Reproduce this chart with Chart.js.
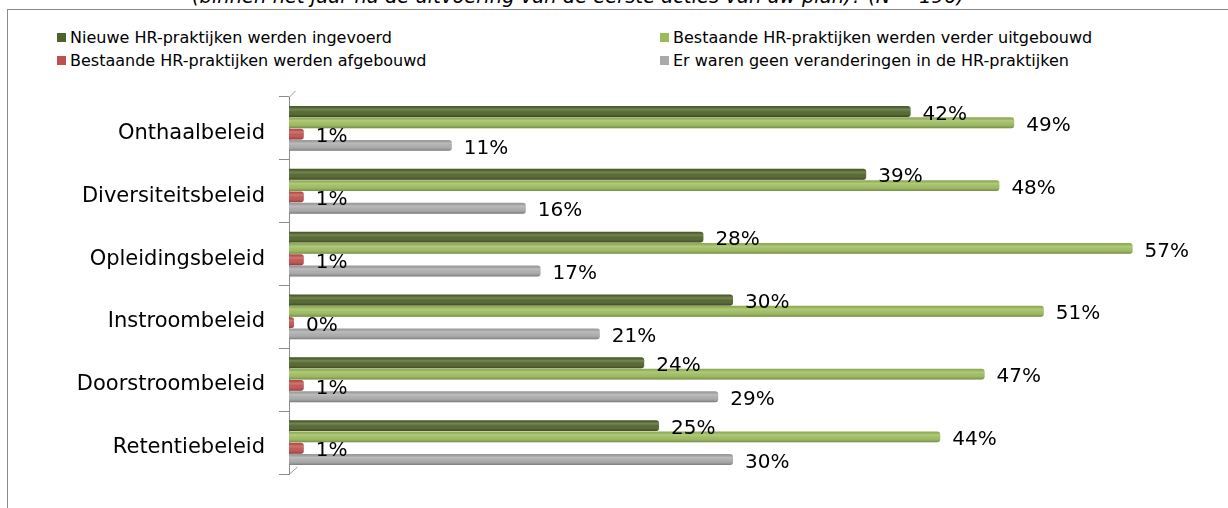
<!DOCTYPE html>
<html>
<head>
<meta charset="utf-8">
<script src="https://cdn.jsdelivr.net/npm/chart.js@4/dist/chart.umd.min.js"></script>
<style>
  body { margin: 0; background: #fff; }
  #wrap { position: relative; width: 1228px; height: 508px; overflow: hidden; font-family: "DejaVu Sans", sans-serif; }
  #title { position: absolute; left: 0; width: 1156px; top: -15px; text-align: center; font-size: 19.5px; font-style: italic; color: #000; white-space: nowrap; }
  #frame { position: absolute; left: 7px; top: 9px; width: 1260px; height: 540px; border: 1px solid #8a8a8a; }
  #legend { position: absolute; left: 57px; top: 27px; display: grid; grid-template-columns: 603px auto; row-gap: 3px; font-size: 16px; color: #000; }
  #legend .item { display: flex; align-items: center; height: 20px; white-space: nowrap; }
  #legend .box { width: 9px; height: 9px; margin-right: 4px; }
  canvas { position: absolute; left: 0; top: 0; }
</style>
</head>
<body>
<div id="wrap">
  <div id="title">(binnen het jaar na de uitvoering van de eerste acties van uw plan)? (N = 196)</div>
  <div id="frame"></div>
  <div id="legend"></div>
  <canvas id="chart" width="1228" height="508"></canvas>
</div>
<script>
// Beleidsdomeinen en percentages per type verandering
const categories = ['Onthaalbeleid', 'Diversiteitsbeleid', 'Opleidingsbeleid', 'Instroombeleid', 'Doorstroombeleid', 'Retentiebeleid'];
const nieuwe = [42, 39, 28, 30, 24, 25];
const uitgebouwd = [49, 48, 57, 51, 47, 44];
const afgebouwd = [1, 1, 1, 0, 1, 1];
const geenVerandering = [11, 16, 17, 21, 29, 30];

const seriesNames = [
  'Nieuwe HR-praktijken werden ingevoerd',
  'Bestaande HR-praktijken werden verder uitgebouwd',
  'Bestaande HR-praktijken werden afgebouwd',
  'Er waren geen veranderingen in de HR-praktijken'
];
const colors = ['#4F6228', '#9BBB59', '#C0504D', '#A9A9A9'];

const FONT = '"DejaVu Sans", sans-serif';

// Cilinder-effect over elke balk
const shading = {
  id: 'shading',
  afterDatasetsDraw(chart) {
    const ctx = chart.ctx;
    chart.data.datasets.forEach((ds, d) => {
      chart.getDatasetMeta(d).data.forEach(bar => {
        const p = bar.getProps(['x', 'y', 'base', 'height'], true);
        const top = p.y - p.height / 2;
        const w = p.x - p.base;
        if (w <= 0) return;
        const g = ctx.createLinearGradient(0, top, 0, top + p.height);
        g.addColorStop(0, 'rgba(0,0,0,0.08)');
        g.addColorStop(0.3, 'rgba(255,255,255,0.22)');
        g.addColorStop(0.55, 'rgba(255,255,255,0.05)');
        g.addColorStop(1, 'rgba(0,0,0,0.28)');
        ctx.save();
        ctx.fillStyle = g;
        ctx.beginPath();
        const r = Math.min(3, w);
        ctx.roundRect(p.base, top, w, p.height, [0, r, r, 0]);
        ctx.fill();
        ctx.restore();
      });
    });
  }
};

// Percentages naast de balken
const valueLabels = {
  id: 'valueLabels',
  afterDatasetsDraw(chart) {
    const ctx = chart.ctx;
    ctx.save();
    ctx.font = '20px ' + FONT;
    ctx.fillStyle = '#000';
    ctx.textAlign = 'left';
    ctx.textBaseline = 'middle';
    chart.data.datasets.forEach((ds, d) => {
      chart.getDatasetMeta(d).data.forEach((bar, i) => {
        const p = bar.getProps(['x', 'y'], true);
        ctx.fillText(ds.data[i] + '%', p.x + 12, p.y + 3);
      });
    });
    ctx.restore();
  }
};

// Diepte van de 3D-wand links
const wall = {
  id: 'wall',
  beforeDatasetsDraw(chart) {
    const a = chart.chartArea;
    const ctx = chart.ctx;
    ctx.save();
    ctx.strokeStyle = '#9a9a9a';
    ctx.lineWidth = 1;
    ctx.beginPath();
    ctx.moveTo(a.left + 0.5, a.top);
    ctx.lineTo(a.left + 6.5, a.top - 6);
    ctx.moveTo(a.left + 0.5, a.bottom);
    ctx.lineTo(a.left + 8.5, a.bottom - 7);
    ctx.stroke();
    ctx.restore();
  }
};

const chart = new Chart(document.getElementById('chart'), {
  type: 'bar',
  data: {
    labels: categories,
    datasets: [nieuwe, uitgebouwd, afgebouwd, geenVerandering].map((values, i) => ({
      label: seriesNames[i],
      data: values,
      backgroundColor: colors[i],
      borderRadius: 3,
      borderSkipped: 'start',
      minBarLength: i === 2 ? 5 : 0,
      categoryPercentage: 0.72,
      barPercentage: 0.96
    }))
  },
  options: {
    indexAxis: 'y',
    responsive: false,
    animation: false,
    layout: { padding: { top: 97, bottom: 34, right: 51, left: 0 } },
    plugins: {
      legend: { display: false },
      tooltip: { enabled: false }
    },
    scales: {
      x: { display: false, min: 0, max: 60 },
      y: {
        afterFit(scale) { scale.width = 289; },
        border: { display: true, color: '#8c8c8c' },
        grid: { drawOnChartArea: false, drawTicks: true, tickLength: 10, color: '#8c8c8c', offset: true },
        ticks: { color: '#000', font: { family: FONT, size: 21 }, padding: 14, labelOffset: 5 }
      }
    }
  },
  plugins: [wall, shading, valueLabels]
});

// Legenda in twee kolommen
const legend = document.getElementById('legend');
[0, 1, 2, 3].forEach(i => {
  const ds = chart.data.datasets[i];
  const item = document.createElement('div');
  item.className = 'item';
  item.innerHTML = '<span class="box" style="background:' + ds.backgroundColor + '"></span>' + ds.label;
  legend.appendChild(item);
});
</script>
</body>
</html>
